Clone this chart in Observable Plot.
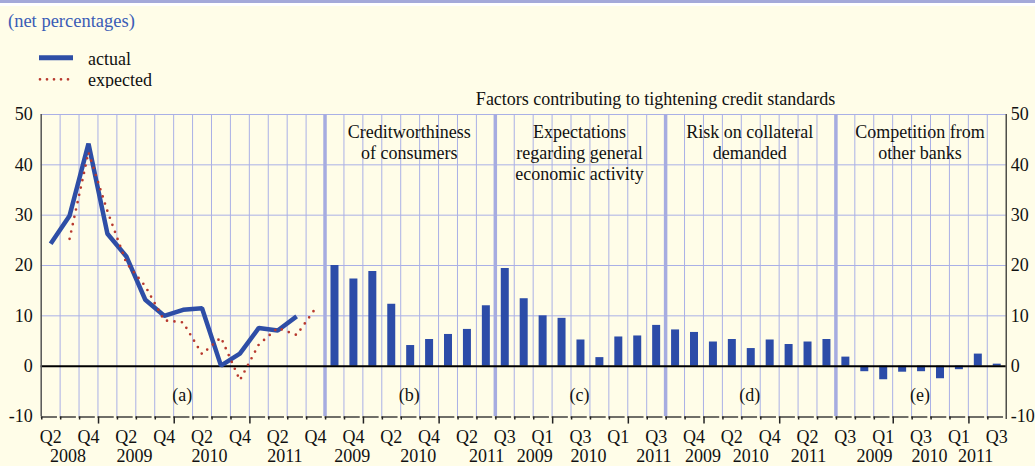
<!DOCTYPE html>
<html>
<head>
<meta charset="utf-8">
<script src="https://cdn.jsdelivr.net/npm/d3@7"></script>
<script src="https://cdn.jsdelivr.net/npm/@observablehq/plot@0.6"></script>
<style>
  html, body { margin: 0; padding: 0; background: #FFFDE8; }
  #wrap { position: relative; width: 1035px; height: 466px; overflow: hidden; background: #FFFDE8;
          font-family: "Liberation Serif", "Times New Roman", serif; }
  .abs { position: absolute; white-space: nowrap; font-size: 18px; line-height: 18px; }
</style>
</head>
<body>
<div id="wrap">
  <div style="position:absolute;left:0;top:0;width:1035px;height:3px;background:#A4A9D9"></div>
  <div style="position:absolute;left:0;top:3px;width:1035px;height:3px;background:#FFFFFF"></div>
  <div class="abs" style="left:8px;top:12px;color:#3A5CB6;font-size:18.5px">(net percentages)</div>
  <svg style="position:absolute;left:0;top:0" width="100" height="95">
    <line x1="39" y1="57.7" x2="73" y2="57.7" stroke="#2E4EA6" stroke-width="5"/>
    <line x1="40" y1="79.3" x2="69" y2="79.3" stroke="#B8392E" stroke-width="2.7" stroke-dasharray="0 7" stroke-linecap="round"/>
  </svg>
  <div class="abs" style="left:88px;top:50px;color:#111">actual</div>
  <div class="abs" style="left:88px;top:71px;color:#111">expected</div>
  <div id="chart" style="position:absolute;left:0;top:88px"></div>
</div>
<script>
// ---- data ----
const actual = [24.3, 29.9, 44.2, 26.3, 21.8, 13.2, 10.0, 11.2, 11.5, 0.1, 2.5, 7.6, 7.1, 9.9];          // Q2 2008 .. Q3 2011
const expected = [null, 25.3, 42.5, 30.8, 20.5, 15.9, 9.1, 8.7, 2.4, 5.7, -2.8, 4.3, 7.6, 6.2, 11.5];    // Q2 2008 .. Q4 2011
const creditworthiness = [20.0, 17.3, 18.8, 12.3, 4.1, 5.3, 6.3, 7.3, 12.0];   // Q3 2009 .. Q3 2011
const expectations     = [19.4, 13.4, 10.0, 9.5, 5.2, 1.7, 5.8, 6.0, 8.1];
const collateral       = [7.2, 6.7, 4.8, 5.3, 3.5, 5.2, 4.3, 4.8, 5.3];
const competition      = [1.8, -1.1, -2.7, -1.2, -1.1, -2.5, -0.7, 2.4, 0.4];

const panelStarts = [0, 15, 24, 33, 42];
const panelEnds   = [15, 24, 33, 42, 51];
const panelLetters = ["(a)", "(b)", "(c)", "(d)", "(e)"];
const panelTitles = ["", "Creditworthiness\nof consumers", "Expectations\nregarding general\neconomic activity",
                     "Risk on collateral\ndemanded", "Competition from\nother banks"];
const mainTitle = "Factors contributing to tightening credit standards";

const quarterTickCols   = [0, 2, 4, 6, 8, 10, 12, 14, 16, 18, 20, 22, 24, 26, 28, 30, 32, 34, 36, 38, 40, 42, 44, 46, 48, 50];
const quarterTickLabels = ["Q2","Q4","Q2","Q4","Q2","Q4","Q2","Q4", "Q4","Q2","Q4","Q2", "Q3","Q1","Q3","Q1","Q3",
                           "Q4","Q2","Q4","Q2", "Q3","Q1","Q3","Q1","Q3"];
const yearLabels   = ["2008","2009","2010","2011", "2009","2010","2011", "2009","2010","2011",
                      "2009","2010","2011", "2009","2010","2011"];
const yearLabelPos = [1.42, 4.93, 8.9, 12.88, 16.44, 19.93, 23.54, 26.08, 28.92, 32.38,
                      34.98, 37.5, 40.55, 44.04, 46.95, 49.38];
const longTickCols = [3, 7, 11, 17, 21, 27, 31, 35, 39, 45, 49];
const yTicks = [-10, 0, 10, 20, 30, 40, 50];
const yGrid = [10, 20, 30, 40, 50];

// ---- derived tables ----
const nCols = panelEnds[panelEnds.length - 1];
const boundaries = d3.range(1, nCols).filter(b => !panelStarts.includes(b));
const separators = panelStarts.slice(1);
const colStarts = d3.range(0, nCols);
const actData = actual.map((v, i) => ({col: i, v}));
const expData = expected.map((v, i) => ({col: i, v})).filter(d => d.v !== null);
const barSeries = [creditworthiness, expectations, collateral, competition];
const barData = barSeries.flatMap((s, k) => s.map((v, i) => ({col: panelStarts[k + 1] + i, v})));
const panels = panelStarts.map((s, i) => ({mid: (s + panelEnds[i]) / 2 - 0.05, letter: panelLetters[i], title: panelTitles[i]}));
const qTicks = quarterTickCols.map((c, i) => ({col: c, label: quarterTickLabels[i]}));
const yTickLab = yearLabels.map((l, i) => ({pos: yearLabelPos[i], label: l}));

const FONT = "Liberation Serif";
const GRID = "#AAB0E6";
const SEP = "#A6ACE0";
const BLUE = "#2E4EA6";
const BAR = "#2C4CA8";
const RED = "#B8392E";
const INK = "#111";

const chart = Plot.plot({
  width: 1035,
  height: 378,
  marginTop: 26,
  marginBottom: 50,
  marginLeft: 40.7,
  marginRight: 29.3,
  x: {type: "linear", domain: [0, nCols], axis: null},
  y: {domain: [-10, 50], axis: null},
  style: {background: "#FFFDE8", fontFamily: FONT, overflow: "visible"},
  marks: [
    Plot.ruleY(yGrid, {stroke: GRID, strokeWidth: 1}),
    Plot.ruleX(boundaries, {y1: -10, y2: 50, stroke: GRID, strokeWidth: 1}),
    Plot.ruleX(separators, {y1: -10, y2: 50, stroke: SEP, strokeWidth: 3.5}),
    Plot.ruleX(barData, {x: d => d.col + 0.5, y1: 0, y2: "v", stroke: BAR, strokeWidth: 8}),
    Plot.ruleY([0], {stroke: "#000", strokeWidth: 2}),
    Plot.line(actData, {x: d => d.col + 0.5, y: "v", stroke: BLUE, strokeWidth: 4.5,
                        strokeLinejoin: "miter", strokeLinecap: "butt"}),
    Plot.line(expData, {x: d => d.col + 0.5, y: "v", stroke: RED, strokeWidth: 2.7,
                        strokeDasharray: "0 7.5", strokeLinecap: "round"}),
    Plot.ruleX([0], {y1: -10, y2: 50, stroke: "#555", strokeWidth: 1.5}),
    Plot.ruleX([nCols], {y1: -10.6, y2: 50, stroke: "#222", strokeWidth: 1.2}),
    // bottom tick row
    Plot.ruleY(colStarts, {x1: d => d, x2: d => d + 0.86, y: -10.1, stroke: "#222", strokeWidth: 1.3}),
    Plot.ruleX(colStarts, {x: d => d + 0.03, y1: -10.1, y2: d => longTickCols.includes(d) ? -11.5 : -10.7,
                           stroke: "#222", strokeWidth: 1.5}),
    // y labels
    Plot.text(yTicks, {x: 0, y: d => d, text: d => String(d), textAnchor: "end", dx: -8.5,
                       fontSize: 18, fontFamily: FONT, fill: INK}),
    Plot.text(yTicks, {x: nCols, y: d => d, text: d => String(d), textAnchor: "start", dx: 4.5,
                       fontSize: 18, fontFamily: FONT, fill: INK}),
    // x labels
    Plot.text(qTicks, {x: d => d.col + 0.5, y: -14.2, text: "label", fontSize: 18, fontFamily: FONT, fill: INK}),
    Plot.text(yTickLab, {x: "pos", y: -17.94, text: "label", fontSize: 18, fontFamily: FONT, fill: INK}),
    // panel letters and titles
    Plot.text(panels, {x: "mid", y: -5.8, text: "letter", fontSize: 18, fontFamily: FONT, fill: INK}),
    Plot.text(panels.filter(p => p.title), {x: "mid", y: 48.2, text: "title", lineAnchor: "top", lineHeight: 1.15,
                       fontSize: 18, fontFamily: FONT, fill: INK}),
    Plot.text([mainTitle], {x: 32.47, y: 52.95, text: d => d, fontSize: 18, fontFamily: FONT, fill: INK})
  ]
});
document.getElementById("chart").appendChild(chart);
</script>
</body>
</html>
